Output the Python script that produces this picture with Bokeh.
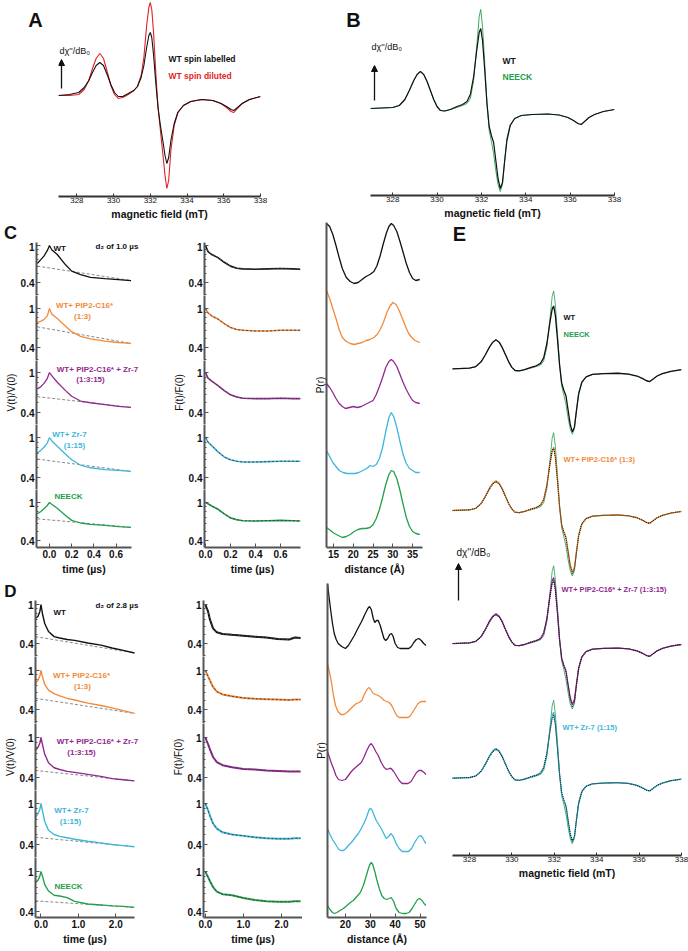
import math

from bokeh.embed import file_html
from bokeh.layouts import column, row
from bokeh.models import (Arrow, CustomJSTickFormatter, FixedTicker, Label,
                          NormalHead, PrintfTickFormatter, Range1d, Title)
from bokeh.plotting import figure
from bokeh.resources import INLINE

FONT = "Liberation Sans"
BLACK = "#111111"
RED = "#e31e24"
ORANGE = "#f28a3b"
PURPLE = "#92278f"
CYAN = "#3db7dc"
GREEN = "#22a04b"
DASH_GREY = "#8a8a8a"
AXIS_GREY = "#555555"
COLORS = [BLACK, ORANGE, PURPLE, CYAN, GREEN]

# ---------------- data ----------------
# A: cw EPR, WT spin labelled vs spin diluted (a.u.)
field_a = [327.0, 327.6, 328.1, 328.4, 328.65, 328.85, 329.05, 329.25, 329.45, 329.65,
           329.85, 330.05, 330.25, 330.5, 330.8, 331.1, 331.3, 331.5, 331.65, 331.8,
           331.92, 332.0, 332.08, 332.18, 332.3, 332.42, 332.55, 332.68, 332.8, 332.9,
           333.0, 333.12, 333.3, 333.5, 333.8, 334.2, 334.8, 335.4, 335.85, 336.15,
           336.4, 336.55, 336.75, 337.0, 337.4, 338.0]
cw_wt_labelled = [0, 1, 3, 8, 15, 23, 30, 33, 30, 21,
                  11, 3, -1, -1, 2, 5, 9, 18, 30, 48,
                  60, 63, 58, 40, 12, -12, -30, -45, -60, -68,
                  -62, -45, -28, -17, -10, -6, -4, -5, -8, -11,
                  -14, -15, -12, -8, -4, -1]
cw_wt_diluted = [0, 0, 1, 6, 15, 27, 37, 42, 37, 24,
                 10, 1, -3, -2, 1, 5, 9, 20, 38, 70,
                 88, 93, 86, 62, 22, -12, -35, -58, -80, -93,
                 -85, -55, -30, -17, -10, -6, -4, -5, -8, -12,
                 -16, -17, -13, -8, -4, -1]

# B and E: cw EPR spectra (a.u.)
field_b = [327.0, 327.5, 328.0, 328.3, 328.55, 328.75, 328.95, 329.1, 329.25, 329.4,
           329.55, 329.7, 329.85, 330.0, 330.15, 330.35, 330.6, 330.9, 331.15, 331.35,
           331.5, 331.65, 331.8, 331.9, 331.97, 332.05, 332.15, 332.25, 332.35, 332.45,
           332.55, 332.65, 332.75, 332.85, 332.95, 333.05, 333.15, 333.3, 333.5, 333.8,
           334.3, 335.0, 335.5, 335.9, 336.15, 336.35, 336.5, 336.65, 336.85, 337.1,
           337.5, 338.0]
cw_wt = [0, 0.5, 1, 3, 9, 18, 28, 34, 37, 34,
         27, 18, 9, 2, -2, -2.5, -1, 2, 4, 7,
         14, 32, 60, 76, 80, 68, 38, 5, -18, -27,
         -34, -52, -70, -80, -74, -52, -32, -17, -10, -7,
         -6, -5.5, -6.5, -9, -12, -15, -16, -13, -9, -6,
         -3, -1]
cw_neeck = [0, 0.5, 1, 3, 9, 18, 28, 34, 37, 34,
            27, 18, 9, 2, -2, -2.5, -1, 1, 3, 5,
            10, 28, 65, 92, 99, 82, 45, 6, -22, -33,
            -45, -62, -76, -83, -76, -52, -30, -16, -10, -7,
            -6, -5.5, -6.5, -9, -12, -15, -16, -13, -9, -6,
            -3, -1]
cw_pip2 = [0, 0.5, 1, 3, 9, 18, 29, 35, 38, 35,
           28, 18, 9, 2, -2, -2.5, -1, 2, 4, 7,
           14, 32, 60, 76, 80, 69, 39, 5, -18, -27,
           -34, -51, -68, -78, -72, -51, -32, -17, -10, -7,
           -6, -5.5, -6.5, -9, -12, -15, -16, -13, -9, -6,
           -3, -1]
cw_pip2_zr7 = [0, 0.5, 1, 3, 9, 18, 29, 35, 38, 35,
               28, 18, 9, 2, -2, -2.5, -1, 2, 4, 6,
               13, 31, 62, 80, 84, 71, 40, 5, -19, -28,
               -35, -52, -68, -77, -71, -50, -31, -17, -10, -7,
               -6, -5.5, -6.5, -9, -12, -15, -16, -13, -9, -6,
               -3, -1]
cw_zr7 = [0, 0.5, 1, 3, 9, 18, 29, 35, 38, 35,
          28, 18, 9, 2, -2, -2.5, -1, 2, 4, 6,
          13, 31, 62, 80, 84, 71, 40, 5, -20, -29,
          -36, -54, -71, -80, -74, -52, -32, -17, -10, -7,
          -6, -5.5, -6.5, -9, -12, -15, -16, -13, -9, -6,
          -3, -1]

# C: DEER, d2 = 1.0 us
t_c = [-0.11, -0.08, -0.05, -0.02, 0.0, 0.02, 0.07, 0.145, 0.2, 0.28, 0.37, 0.5, 0.62, 0.735]
v_c_wt = [0.64, 0.70, 0.77, 0.88, 1.0, 0.90, 0.80, 0.62, 0.53, 0.485, 0.455, 0.44, 0.43, 0.42]
v_c_pip2 = [0.72, 0.74, 0.77, 0.84, 1.0, 0.88, 0.79, 0.66, 0.58, 0.52, 0.49, 0.465, 0.45, 0.44]
v_c_pip2_zr7 = [0.685, 0.72, 0.78, 0.87, 1.0, 0.93, 0.80, 0.66, 0.58, 0.52, 0.50, 0.48, 0.46, 0.45]
v_c_zr7 = [0.70, 0.74, 0.80, 0.88, 1.0, 0.93, 0.82, 0.68, 0.60, 0.53, 0.50, 0.48, 0.47, 0.46]
v_c_neeck = [0.76, 0.80, 0.86, 0.93, 1.0, 0.96, 0.87, 0.73, 0.65, 0.61, 0.59, 0.575, 0.56, 0.55]
t_c_bg = [-0.11, 0.735]
bg_c_wt = [0.60, 0.42]
bg_c_pip2 = [0.65, 0.44]
bg_c_pip2_zr7 = [0.575, 0.45]
bg_c_zr7 = [0.61, 0.46]
bg_c_neeck = [0.675, 0.55]

t_cf = [0.0, 0.02, 0.05, 0.1, 0.15, 0.2, 0.25, 0.3, 0.4, 0.5, 0.6, 0.7, 0.76]
f_c_wt = [1.0, 0.86, 0.80, 0.74, 0.66, 0.60, 0.57, 0.56, 0.555, 0.56, 0.565, 0.56, 0.555]
f_c_pip2 = [1.0, 0.90, 0.84, 0.78, 0.70, 0.64, 0.61, 0.60, 0.59, 0.59, 0.60, 0.60, 0.60]
f_c_pip2_zr7 = [1.0, 0.88, 0.82, 0.74, 0.66, 0.60, 0.57, 0.555, 0.55, 0.55, 0.555, 0.55, 0.55]
f_c_zr7 = [1.0, 0.90, 0.83, 0.72, 0.64, 0.60, 0.58, 0.57, 0.57, 0.575, 0.58, 0.58, 0.58]
f_c_neeck = [1.0, 0.97, 0.92, 0.85, 0.76, 0.69, 0.66, 0.645, 0.64, 0.645, 0.65, 0.645, 0.64]

r_c_wt = [13.2, 14.0, 14.8, 15.6, 16.4, 17.2, 18.2, 19.2, 20.2, 21.2,
          22.2, 23.2, 24.2, 25.2, 26.0, 26.8, 27.6, 28.4, 29.0, 29.6,
          30.2, 31.0, 31.8, 32.6, 33.4, 34.2, 35.0, 35.8, 36.8]
p_c_wt = [60, 57, 49, 38, 26, 15, 6, 2, 0, 1,
          4, 7, 9, 12, 18, 28, 40, 51, 57, 60,
          58, 52, 42, 31, 20, 11, 5, 3, 4]
r_c_pip2 = [13.2, 14.0, 14.8, 15.6, 16.4, 17.2, 18.2, 19.2, 20.2, 21.2,
            22.2, 23.2, 24.2, 25.2, 26.0, 26.8, 27.6, 28.4, 29.2, 30.0,
            30.8, 31.6, 32.4, 33.2, 34.0, 34.8, 35.6, 36.8]
p_c_pip2 = [54, 46, 36, 26, 15, 7, 3, 1, 0, 1,
            2, 4, 5, 7, 10, 15, 22, 31, 38, 42,
            40, 34, 26, 18, 11, 7, 4, 2]
r_c_pip2_zr7 = [13.2, 14.0, 14.8, 15.6, 16.4, 17.2, 18.0, 19.0, 20.0, 21.0,
                22.0, 23.0, 24.0, 25.0, 25.8, 26.6, 27.4, 28.2, 29.0, 29.6,
                30.2, 31.0, 31.8, 32.6, 33.4, 34.2, 35.0, 35.8, 36.8]
p_c_pip2_zr7 = [25, 21, 16, 10, 5, 2, 0, 1, 2, 1,
                2, 4, 6, 8, 14, 22, 31, 41, 47, 49,
                47, 42, 34, 26, 19, 13, 8, 6, 5]
r_c_zr7 = [13.2, 14.0, 14.8, 15.6, 16.4, 17.4, 18.4, 19.4, 20.4, 21.4,
           22.4, 23.4, 24.2, 25.0, 25.8, 26.6, 27.4, 28.2, 29.0, 29.6,
           30.2, 31.0, 31.8, 32.6, 33.4, 34.2, 35.0, 35.8, 36.8]
p_c_zr7 = [23, 17, 11, 7, 3, 1, 0, 0, 0, 1,
           3, 5, 8, 7, 9, 15, 26, 42, 56, 61,
           57, 46, 32, 19, 10, 5, 3, 1, 1]
r_c_neeck = [13.2, 14.2, 15.2, 16.2, 17.2, 18.2, 19.2, 20.2, 21.2, 22.2,
             23.2, 24.2, 25.0, 25.8, 26.6, 27.4, 28.2, 29.0, 29.6, 30.2,
             31.0, 31.8, 32.6, 33.4, 34.2, 35.0, 35.8, 36.8]
p_c_neeck = [10, 7, 4, 2, 0, 1, 3, 6, 8, 9,
             9, 10, 13, 19, 28, 40, 53, 63, 67, 66,
             59, 47, 33, 20, 11, 6, 4, 3]

# D: DEER, d2 = 2.8 us
t_d = [-0.15, -0.08, -0.03, 0.0, 0.04, 0.1, 0.2, 0.35, 0.5, 0.7, 0.9, 1.25, 1.6, 1.9, 2.2, 2.5]
v_d_wt = [0.72, 0.76, 0.85, 1.0, 0.80, 0.64, 0.53, 0.47, 0.455, 0.44, 0.43, 0.405, 0.385, 0.36, 0.34, 0.32]
v_d_pip2 = [0.735, 0.80, 0.88, 1.0, 0.86, 0.72, 0.63, 0.58, 0.55, 0.52, 0.50, 0.465, 0.44, 0.415, 0.39, 0.365]
v_d_pip2_zr7 = [0.74, 0.80, 0.88, 1.0, 0.85, 0.68, 0.56, 0.50, 0.48, 0.46, 0.45, 0.43, 0.41, 0.39, 0.38, 0.37]
v_d_zr7 = [0.73, 0.80, 0.88, 1.0, 0.85, 0.67, 0.55, 0.50, 0.48, 0.465, 0.45, 0.43, 0.415, 0.40, 0.39, 0.38]
v_d_neeck = [0.78, 0.82, 0.90, 1.0, 0.90, 0.74, 0.64, 0.58, 0.57, 0.55, 0.505, 0.475, 0.465, 0.455, 0.45, 0.44]
t_d_bg = [-0.15, 2.5]
bg_d_wt = [0.47, 0.32]
bg_d_pip2 = [0.52, 0.365]
bg_d_pip2_zr7 = [0.47, 0.37]
bg_d_zr7 = [0.47, 0.38]
bg_d_neeck = [0.51, 0.44]

t_df = [0.0, 0.03, 0.07, 0.12, 0.2, 0.3, 0.45, 0.7, 1.0, 1.3, 1.6, 1.9, 2.2, 2.35, 2.5]
f_d_wt = [1.0, 0.93, 0.85, 0.70, 0.57, 0.52, 0.50, 0.49, 0.48, 0.47, 0.46, 0.445, 0.44, 0.46, 0.455]
f_d_pip2 = [1.0, 0.94, 0.87, 0.79, 0.68, 0.61, 0.57, 0.545, 0.525, 0.515, 0.51, 0.505, 0.50, 0.505, 0.505]
f_d_pip2_zr7 = [1.0, 0.93, 0.86, 0.76, 0.64, 0.57, 0.53, 0.505, 0.485, 0.48, 0.47, 0.465, 0.46, 0.46, 0.46]
f_d_zr7 = [1.0, 0.93, 0.86, 0.76, 0.64, 0.57, 0.525, 0.50, 0.485, 0.47, 0.46, 0.455, 0.455, 0.46, 0.46]
f_d_neeck = [1.0, 0.94, 0.88, 0.80, 0.70, 0.63, 0.595, 0.58, 0.545, 0.52, 0.505, 0.50, 0.50, 0.505, 0.505]

r_d_wt = [12.8, 13.4, 14.1, 14.8, 15.5, 16.3, 17.1, 18.5, 20.0, 21.2,
          22.4, 23.6, 25.0, 26.5, 28.0, 29.0, 29.7, 30.4, 31.2, 31.8,
          32.5, 33.2, 34.0, 34.8, 35.5, 36.2, 37.0, 37.8, 38.5, 39.2,
          40.0, 41.0, 42.0, 45.5, 46.5, 47.5, 48.5, 49.5, 50.5, 51.5, 52.4]
p_d_wt = [65, 52, 38, 25, 15, 9, 5, 2, 0, 3,
          8, 13, 20, 27, 35, 40, 42, 39, 30, 26,
          28, 28, 23, 16, 10, 8, 10, 14, 15, 12,
          5, 1, 0, 0, 2, 6, 9, 10, 8, 5, 3]
r_d_pip2 = [12.8, 13.6, 14.4, 15.2, 16.0, 17.0, 18.2, 19.4, 20.6, 21.8,
            23.0, 24.4, 25.6, 26.6, 27.4, 28.2, 29.0, 29.6, 30.4, 31.2,
            32.2, 33.2, 34.4, 35.6, 36.6, 37.6, 38.6, 39.6, 40.6, 41.6,
            45.2, 46.2, 47.2, 48.2, 49.2, 50.4, 51.4, 52.4]
p_d_pip2 = [54, 45, 35, 22, 12, 6, 3, 3, 5, 8,
            11, 14, 15, 17, 22, 26, 29, 30, 27, 24,
            23, 22, 20, 17, 16, 15, 12, 7, 2, 0,
            0, 2, 6, 10, 14, 16, 16, 16]
r_d_pip2_zr7 = [12.8, 13.6, 14.4, 15.2, 16.2, 17.2, 18.6, 20.0, 21.2, 22.4,
                23.6, 25.0, 26.4, 27.6, 28.6, 29.6, 30.4, 31.2, 32.2, 33.2,
                34.4, 35.6, 36.6, 37.6, 38.4, 39.4, 40.4, 41.6, 42.8, 45.2,
                46.4, 47.6, 48.6, 49.6, 50.6, 51.6, 52.4]
p_d_pip2_zr7 = [32, 26, 20, 15, 8, 4, 3, 4, 8, 12,
                15, 18, 21, 27, 33, 38, 40, 37, 32, 28,
                21, 16, 14, 15, 15, 12, 8, 3, 0, 0,
                2, 7, 11, 13, 13, 11, 9]
r_d_zr7 = [12.8, 13.8, 14.8, 15.6, 16.6, 17.4, 18.2, 19.2, 20.2, 21.2,
           22.4, 23.6, 25.2, 26.4, 27.6, 28.6, 29.4, 30.0, 30.6, 31.4,
           32.4, 33.4, 34.4, 35.4, 36.4, 37.4, 38.4, 39.4, 40.4, 41.6,
           42.8, 45.4, 46.6, 47.6, 48.6, 49.4, 50.2, 51.0, 51.8, 52.4]
p_d_zr7 = [23, 17, 12, 9, 5, 2, 1, 1, 3, 6,
           9, 13, 18, 23, 29, 35, 41, 43, 42, 37,
           31, 27, 23, 18, 13, 15, 18, 14, 8, 3,
           0, 0, 3, 8, 12, 15, 16, 14, 10, 8]
r_d_neeck = [12.8, 13.8, 14.8, 15.6, 16.6, 17.8, 19.2, 20.6, 22.0, 23.2,
             24.6, 26.0, 27.2, 28.2, 29.0, 29.8, 30.4, 31.0, 31.8, 32.6,
             33.6, 34.6, 35.6, 36.6, 37.6, 38.4, 39.4, 40.4, 41.6, 43.0,
             44.4, 45.6, 46.8, 48.0, 49.0, 49.8, 50.8, 51.6, 52.4]
p_d_neeck = [8, 4, 1, 0, 1, 3, 5, 8, 11, 13,
             17, 21, 28, 36, 43, 49, 51, 49, 42, 34,
             25, 18, 15, 14, 15, 16, 12, 5, 1, 0,
             0, 1, 5, 10, 14, 15, 13, 10, 8]

field_ticks = [328, 330, 332, 334, 336, 338]

v_c = [v_c_wt, v_c_pip2, v_c_pip2_zr7, v_c_zr7, v_c_neeck]
bg_c = [bg_c_wt, bg_c_pip2, bg_c_pip2_zr7, bg_c_zr7, bg_c_neeck]
f_c = [f_c_wt, f_c_pip2, f_c_pip2_zr7, f_c_zr7, f_c_neeck]
r_c = [r_c_wt, r_c_pip2, r_c_pip2_zr7, r_c_zr7, r_c_neeck]
p_c = [p_c_wt, p_c_pip2, p_c_pip2_zr7, p_c_zr7, p_c_neeck]
v_d = [v_d_wt, v_d_pip2, v_d_pip2_zr7, v_d_zr7, v_d_neeck]
bg_d = [bg_d_wt, bg_d_pip2, bg_d_pip2_zr7, bg_d_zr7, bg_d_neeck]
f_d = [f_d_wt, f_d_pip2, f_d_pip2_zr7, f_d_zr7, f_d_neeck]
r_d = [r_d_wt, r_d_pip2, r_d_pip2_zr7, r_d_zr7, r_d_neeck]
p_d = [p_d_wt, p_d_pip2, p_d_pip2_zr7, p_d_zr7, p_d_neeck]


# ---------------- helpers (page pixel geometry) ----------------
def make_fig(canvas, frame, xr, yr, ylog=False, x_axis=True, y_axis=True):
    cl, ct, cr, cb = canvas
    fl, ft, fr, fb = frame
    p = figure(frame_width=fr - fl, frame_height=fb - ft,
               min_border_left=fl - cl, min_border_right=cr - fr,
               min_border_top=ft - ct, min_border_bottom=cb - fb,
               x_range=Range1d(*xr), y_range=Range1d(*yr),
               y_axis_type="log" if ylog else "linear",
               x_axis_location="below" if x_axis else None,
               y_axis_location="left" if y_axis else None,
               title=None, toolbar_location=None, output_backend="svg")
    p.outline_line_color = None
    p.grid.visible = False
    return p, (fl, ft, fr, fb, xr[0], xr[1], yr[0], yr[1], ylog)


def host(canvas):
    # blank panel whose frame is the whole box; holds panel letters
    cl, ct, cr, cb = canvas
    return make_fig(canvas, canvas, (cl, cr), (-cb, -ct), x_axis=False, y_axis=False)


def to_data(g, xp, yp):
    fl, ft, fr, fb, x0, x1, y0, y1, ylog = g
    x = x0 + (xp - fl) / (fr - fl) * (x1 - x0)
    f = (fb - yp) / (fb - ft)
    if ylog:
        y = 10 ** (math.log10(y0) + f * (math.log10(y1) - math.log10(y0)))
    else:
        y = y0 + f * (y1 - y0)
    return x, y


def put(fg, xp, yp, text, size="8px", color=BLACK, bold=True, align="left"):
    p, g = fg
    x, y = to_data(g, xp, yp)
    p.add_layout(Label(x=x, y=y, text=text, text_font=FONT,
                       text_font_size=size, text_color=color,
                       text_font_style="bold" if bold else "normal",
                       text_align=align, text_baseline="middle"))


def side_title(fg, text, place, offset, bold=True, size="10.5px"):
    p, _ = fg
    p.add_layout(Title(text=text, align="center", offset=offset, standoff=1,
                       text_font=FONT, text_font_size=size,
                       text_font_style="bold" if bold else "normal",
                       text_color=BLACK), place)


def style_axes(p, size="10px", bold=True, color=AXIS_GREY):
    for ax in p.axis:
        ax.axis_line_color = color
        ax.axis_line_width = 2
        ax.major_tick_line_color = color
        ax.minor_tick_line_color = color
        ax.major_tick_in = 4
        ax.major_tick_out = 0
        ax.minor_tick_in = 2
        ax.minor_tick_out = 0
        ax.major_label_standoff = 2
        ax.major_label_text_font = FONT
        ax.major_label_text_font_size = size
        ax.major_label_text_font_style = "bold" if bold else "normal"
        ax.major_label_text_color = BLACK


def log_column(cx, fl, fr_up, fr_bot, frames, ones, fours, ctop, cbot, xr, xticks):
    out = []
    scale = (xr[1] - xr[0]) / (fr_bot - fl)
    xr_up = (xr[0], xr[0] + (fr_up - fl) * scale)
    for i in range(5):
        ft, fb = frames[i]
        ct = ctop if i == 0 else ft
        cb = cbot if i == 4 else fb
        dpp = math.log10(2.5) / (fours[i] - ones[i])
        hi = 10 ** ((ones[i] - ft) * dpp)
        lo = 0.4 / 10 ** ((fb - fours[i]) * dpp)
        last = i == 4
        p, g = make_fig((cx[0], ct, cx[1], cb),
                        (fl, ft, fr_bot if last else fr_up, fb),
                        xr if last else xr_up, (lo, hi), ylog=True, x_axis=last)
        p.yaxis.ticker = FixedTicker(ticks=[0.4, 1.0], minor_ticks=[0.3, 0.5, 0.6, 0.7, 0.8, 0.9])
        p.yaxis.formatter = CustomJSTickFormatter(code="return String(Number(tick.toFixed(2)))")
        if last:
            p.xaxis.ticker = FixedTicker(ticks=xticks)
            p.xaxis.formatter = PrintfTickFormatter(format="%.1f")
        style_axes(p)
        out.append((p, g))
    return out


def epr_axis(p, ticks):
    p.xaxis.ticker = FixedTicker(ticks=ticks)
    p.xaxis.formatter = PrintfTickFormatter(format="%d")
    style_axes(p, size="8px", bold=False, color="#333333")
    p.xaxis.major_tick_in = 3
    p.xaxis.major_label_standoff = 1


def arrow(fg, xp, y0p, y1p):
    p, g = fg
    x, ya = to_data(g, xp, y0p)
    _, yb = to_data(g, xp, y1p)
    p.add_layout(Arrow(end=NormalHead(size=6, fill_color=BLACK, line_color=BLACK),
                       x_start=x, y_start=ya, x_end=x, y_end=yb,
                       line_color=BLACK, line_width=1.3))


# ---------------- A ----------------
LA = host((0, 0, 50, 222))
put(LA, 35, 19, "A", size="20px", align="center")

A = make_fig((50, 0, 332, 222), (58, 0, 260, 196), (327.0, 338.0), (-101, 95), y_axis=False)
pa = A[0]
epr_axis(pa, field_ticks)
pa.line(field_a, cw_wt_diluted, line_color=RED, line_width=1.1)
pa.line(field_a, cw_wt_labelled, line_color=BLACK, line_width=1.1)
put(A, 59, 50, "dχ''/dB₀", size="9px", bold=False)
arrow(A, 61, 88, 59)
put(A, 168, 58, "WT spin labelled", size="8.5px")
put(A, 168, 75, "WT spin diluted", size="8.5px", color=RED)
side_title(A, "magnetic field (mT)", "below", 20)

# ---------------- B ----------------
LB = host((332, 0, 366, 222))
put(LB, 353, 19, "B", size="20px", align="center")

B = make_fig((366, 0, 687, 222), (370, 0, 614, 195), (327.0, 338.0), (-87, 108), y_axis=False)
pb = B[0]
epr_axis(pb, field_ticks)
pb.line(field_b, cw_neeck, line_color=GREEN, line_width=0.9)
pb.line(field_b, cw_wt, line_color=BLACK, line_width=1.2)
put(B, 371, 46, "dχ''/dB₀", size="9px", bold=False)
arrow(B, 374, 100, 65)
put(B, 502, 60, "WT", size="8.5px")
put(B, 502, 76, "NEECK", size="8.5px", color=GREEN)
side_title(B, "magnetic field (mT)", "below", 9)

# ---------------- C ----------------
HC = host((0, 222, 302, 242))
put(HC, 10, 232, "C", size="18px", align="center")

C_FRAMES = [(242, 295), (295, 360), (360, 424), (424, 489), (489, 547)]
C_ONE = [245, 308, 372, 437, 502]
C_FOUR = [282, 347, 412, 477, 540]
cv = log_column((0, 170), 36, 170, 131, C_FRAMES, C_ONE, C_FOUR, 242, 580,
                (-0.117, 0.739), [0, 0.2, 0.4, 0.6])
cf = log_column((170, 302), 204, 300, 300, C_FRAMES, C_ONE, C_FOUR, 242, 580,
                (-0.008, 0.76), [0, 0.2, 0.4, 0.6])
for i in range(5):
    p = cv[i][0]
    p.line(t_c_bg, bg_c[i], line_color=DASH_GREY, line_dash="3 2", line_width=1)
    p.line(t_c, v_c[i], line_color=COLORS[i], line_width=1.3)
    q = cf[i][0]
    q.line(t_cf, f_c[i], line_color=COLORS[i], line_width=1.6)
    q.line(t_cf, f_c[i], line_color="#444444", line_dash="2 2", line_width=1)

put(cv[0], 53, 248, "WT")
put(cv[0], 95, 246, "d₂ of 1.0 µs")
put(cv[1], 84, 305, "WT+ PIP2-C16*", color=ORANGE, align="center")
put(cv[1], 82, 316, "(1:3)", color=ORANGE, align="center")
put(cv[2], 97, 369, "WT+ PIP2-C16* + Zr-7", color=PURPLE, align="center")
put(cv[2], 90, 379, "(1:3:15)", color=PURPLE, align="center")
put(cv[3], 69, 434, "WT+ Zr-7", color=CYAN, align="center")
put(cv[3], 74, 445, "(1:15)", color=CYAN, align="center")
put(cv[4], 68, 496, "NEECK", color=GREEN, align="center")
side_title(cv[2], "V(t)/V(0)", "left", 9, bold=False, size="10px")
side_title(cf[2], "F(t)/F(0)", "left", 9, bold=False, size="10px")
side_title(cv[4], "time (µs)", "below", 4)
side_title(cf[4], "time (µs)", "below", 7)

CP = make_fig((302, 222, 440, 580), (326, 222, 422, 547), (13.2, 37.5), (0, 325))
pcp = CP[0]
pcp.xaxis.ticker = FixedTicker(ticks=[15, 20, 25, 30, 35])
pcp.yaxis.ticker = FixedTicker(ticks=[])
style_axes(pcp)
c_base = [264, 203, 139, 74, 10]
for i in range(5):
    pcp.line(r_c[i], [c_base[i] + v for v in p_c[i]], line_color=COLORS[i], line_width=1.3)
side_title(CP, "P(r)", "left", -3, bold=False, size="10px")
side_title(CP, "distance (Å)", "below", 10)

# ---------------- D ----------------
HD = host((0, 580, 302, 600))
put(HD, 10, 591, "D", size="17px", align="center")

D_FRAMES = [(600, 656), (656, 723), (723, 790), (790, 857), (857, 917)]
D_ONE = [604, 670, 737, 803, 871]
D_FOUR = [643, 709, 777, 844, 911]
dv = log_column((0, 170), 35, 170, 134, D_FRAMES, D_ONE, D_FOUR, 600, 950,
                (-0.147, 2.5), [0, 1, 2])
df = log_column((170, 302), 202, 301, 301, D_FRAMES, D_ONE, D_FOUR, 600, 950,
                (-0.05, 2.55), [0, 1, 2])
for i in range(5):
    p = dv[i][0]
    p.line(t_d_bg, bg_d[i], line_color=DASH_GREY, line_dash="3 2", line_width=1)
    p.line(t_d, v_d[i], line_color=COLORS[i], line_width=1.4)
    q = df[i][0]
    q.line(t_df, f_d[i], line_color=COLORS[i], line_width=2)
    q.line(t_df, f_d[i], line_color="#444444", line_dash="2 2", line_width=1)

put(dv[0], 53, 612, "WT")
put(dv[0], 95, 605, "d₂ of 2.8 µs")
put(dv[1], 81, 675, "WT+ PIP2-C16*", color=ORANGE, align="center")
put(dv[1], 82, 686, "(1:3)", color=ORANGE, align="center")
put(dv[2], 97, 741, "WT+ PIP2-C16* + Zr-7", color=PURPLE, align="center")
put(dv[2], 81, 752, "(1:3:15)", color=PURPLE, align="center")
put(dv[3], 71, 810, "WT+ Zr-7", color=CYAN, align="center")
put(dv[3], 70, 821, "(1:15)", color=CYAN, align="center")
put(dv[4], 68, 886, "NEECK", color=GREEN, align="center")
side_title(dv[2], "V(t)/V(0)", "left", 10, bold=False, size="10px")
side_title(df[2], "F(t)/F(0)", "left", 10, bold=False, size="10px")
side_title(dv[4], "time (µs)", "below", 0)
side_title(df[4], "time (µs)", "below", 6)

DP = make_fig((302, 580, 440, 950), (326, 583, 425, 917), (12.8, 52.6), (0, 334))
pdp = DP[0]
pdp.xaxis.ticker = FixedTicker(ticks=[20, 30, 40, 50])
pdp.yaxis.ticker = FixedTicker(ticks=[])
style_axes(pdp)
d_base = [269, 200, 134, 66, 4]
for i in range(5):
    pdp.line(r_d[i], [d_base[i] + v for v in p_d[i]], line_color=COLORS[i], line_width=1.3)
side_title(DP, "P(r)", "left", 0, bold=False, size="10px")
side_title(DP, "distance (Å)", "below", 11)

# ---------------- E ----------------
E = make_fig((440, 222, 687, 950), (451, 222, 680, 855), (327.2, 338.0), (0, 804), y_axis=False)
pe = E[0]
epr_axis(pe, field_ticks)
e_base = [618, 438, 269, 98]
e_samples = [cw_wt, cw_pip2, cw_pip2_zr7, cw_zr7]
e_colors = [BLACK, ORANGE, PURPLE, CYAN]
for i in range(4):
    off = e_base[i]
    pe.line(field_b, [off + v for v in cw_neeck], line_color=GREEN, line_width=0.8)
    pe.line(field_b, [off + v for v in e_samples[i]], line_color=e_colors[i], line_width=1.3)
    if i > 0:
        pe.line(field_b, [off + v for v in cw_wt], line_color=BLACK, line_dash="1 1", line_width=1.1)
put(E, 458, 233, "E", size="20px", align="center")
put(E, 562, 317, "WT", size="7.5px")
put(E, 562, 334, "NEECK", size="7.5px", color=GREEN)
put(E, 562, 459, "WT+ PIP2-C16* (1:3)", size="7.5px", color=ORANGE)
put(E, 560, 589, "WT+ PIP2-C16* + Zr-7 (1:3:15)", size="7.5px", color=PURPLE)
put(E, 561, 727, "WT+ Zr-7 (1:15)", size="7.5px", color=CYAN)
put(E, 455, 552, "dχ''/dB₀", size="10px", bold=False)
arrow(E, 457, 600, 563)
side_title(E, "magnetic field (mT)", "below", -8)

# ---------------- layout ----------------
block_c = row(column(HC[0], row(column(*[f[0] for f in cv]), column(*[f[0] for f in cf]))), pcp)
block_d = row(column(HD[0], row(column(*[f[0] for f in dv]), column(*[f[0] for f in df]))), pdp)
root = column(row(LA[0], pa, LB[0], pb), row(column(block_c, block_d), pe))

open("out.html", "w").write(file_html(root, INLINE))
